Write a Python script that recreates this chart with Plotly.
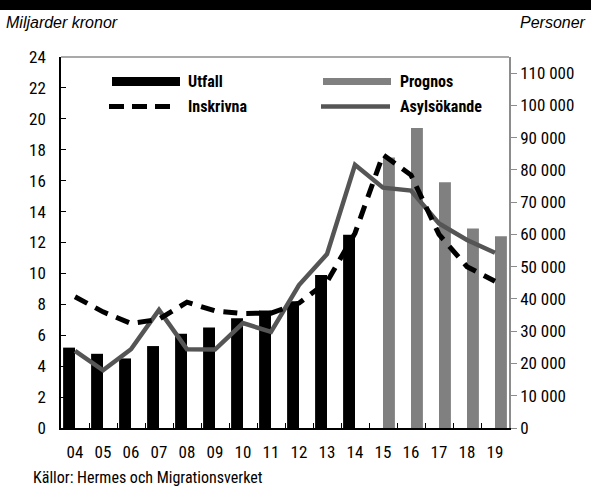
import plotly.graph_objects as go

years = ["04", "05", "06", "07", "08", "09", "10", "11", "12", "13", "14", "15", "16", "17", "18", "19"]
utfall = [5.2, 4.8, 4.5, 5.3, 6.1, 6.5, 7.1, 7.6, 8.2, 9.9, 12.5, None, None, None, None, None]
prognos = [None, None, None, None, None, None, None, None, None, None, None, 17.5, 19.4, 15.9, 12.9, 12.4]
inskrivna = [40700, 36000, 32400, 33700, 39000, 36300, 35500, 35600, 38700, 45300, 60400, 84700, 78400, 60000, 50000, 45500]
asylsokande = [23900, 17900, 24400, 36600, 24400, 24300, 32500, 29800, 44300, 53900, 81600, 74500, 73600, 63400, 58300, 54300]

left_ticks = list(range(0, 25, 2))
right_ticks = list(range(0, 110001, 10000))
right_ticktext = [f"{v:,}".replace(",", " ") for v in right_ticks]

FONT = "Roboto Condensed, DejaVu Sans Condensed, sans-serif"
ITALIC_FONT = "Liberation Sans, Arial, sans-serif"
GRAY_BAR = "#808080"
GRAY_LINE = "#555555"
FS = 17

fig = go.Figure()
fig.add_trace(go.Bar(x=years, y=utfall, name="Utfall", marker_color="black", marker_line_width=0))
fig.add_trace(go.Bar(x=years, y=prognos, name="Prognos", marker_color=GRAY_BAR, marker_line_width=0))
fig.add_trace(go.Scatter(x=years, y=asylsokande, name="Asylsökande", yaxis="y2", mode="lines",
                         line=dict(color=GRAY_LINE, width=4.5)))
fig.add_trace(go.Scatter(x=years, y=inskrivna, name="Inskrivna", yaxis="y2", mode="lines",
                         line=dict(color="black", width=5, dash="14px,9px")))

fig.update_layout(
    width=591, height=486,
    margin=dict(l=61, r=82, t=57, b=58, autoexpand=False),
    paper_bgcolor="white", plot_bgcolor="white",
    barmode="group", bargap=0.15, bargroupgap=0,
    showlegend=False,
    font=dict(family=FONT, size=FS, color="black"),
    xaxis=dict(type="category", range=[-0.5, 15.5], showline=True, linecolor="black", linewidth=1.5,
               ticks="inside", ticklen=5, tickcolor="black", tickson="boundaries", automargin=False,
               showgrid=False, zeroline=False, tickfont=dict(size=FS, family=FONT), ticklabelstandoff=8),
    yaxis=dict(range=[0, 24], tickvals=left_ticks, showline=True, linecolor="black", linewidth=1.5,
               ticks="inside", ticklen=5, tickcolor="black", showgrid=False, zeroline=False, automargin=False,
               tickfont=dict(size=FS, family=FONT), ticklabelstandoff=10),
    yaxis2=dict(range=[0, 115000], overlaying="y", side="right", tickvals=right_ticks,
                ticktext=right_ticktext, showline=True, linecolor="#8c8c8c", linewidth=1.5, automargin=False,
                ticks="outside", ticklen=6, tickcolor="#8c8c8c", showgrid=False, zeroline=False,
                tickfont=dict(size=FS, family=FONT)),
)

shapes = [
    dict(type="line", xref="paper", yref="paper", x0=0, x1=1, y0=1, y1=1,
         line=dict(color="#8c8c8c", width=1.5)),
    dict(type="rect", xref="paper", yref="paper", x0=-0.2, x1=1.25, y0=(428 - 10) / 371, y1=1.2,
         fillcolor="black", line=dict(width=0)),
    dict(type="rect", xref="paper", yref="paper", x0=51 / 448, x1=119 / 448,
         y0=(428 - 86) / 371, y1=(428 - 77) / 371, fillcolor="black", line=dict(width=0)),
    dict(type="rect", xref="paper", yref="paper", x0=262 / 448, x1=330 / 448,
         y0=(428 - 85) / 371, y1=(428 - 78) / 371, fillcolor=GRAY_BAR, line=dict(width=0)),
    dict(type="line", xref="paper", yref="paper", x0=48 / 448, x1=112 / 448,
         y0=(428 - 106.5) / 371, y1=(428 - 106.5) / 371,
         line=dict(color="black", width=5, dash="15px,8px")),
    dict(type="line", xref="paper", yref="paper", x0=260 / 448, x1=329 / 448,
         y0=(428 - 106.5) / 371, y1=(428 - 106.5) / 371,
         line=dict(color=GRAY_LINE, width=4.5)),
]
fig.update_layout(shapes=shapes)


def legend_text(txt, px, py):
    return dict(text=f"<b>{txt}</b>", xref="paper", yref="paper", x=(px - 61) / 448, y=(428 - py) / 371,
                xanchor="left", yanchor="middle", showarrow=False, font=dict(family=FONT, size=16, color="black"))


annotations = [
    legend_text("Utfall", 186, 81),
    legend_text("Prognos", 398, 81),
    legend_text("Inskrivna", 186, 106.5),
    legend_text("Asylsökande", 398, 106.5),
    dict(text="<i>Miljarder kronor</i>", xref="paper", yref="paper", x=(4 - 61) / 448, y=(428 - 22) / 371,
         xanchor="left", yanchor="middle", showarrow=False,
         font=dict(family=ITALIC_FONT, size=16, color="black")),
    dict(text="<i>Personer</i>", xref="paper", yref="paper", x=(588 - 61) / 448, y=(428 - 22) / 371,
         xanchor="right", yanchor="middle", showarrow=False,
         font=dict(family=ITALIC_FONT, size=16, color="black")),
    dict(text="Källor: Hermes och Migrationsverket", xref="paper", yref="paper", x=(31 - 61) / 448,
         y=(428 - 477) / 371, xanchor="left", yanchor="middle", showarrow=False,
         font=dict(family=FONT, size=16, color="black")),
]
fig.update_layout(annotations=annotations)

fig.write_html("out.html", config={"displayModeBar": False},
               post_script="document.body.style.margin='0';")
